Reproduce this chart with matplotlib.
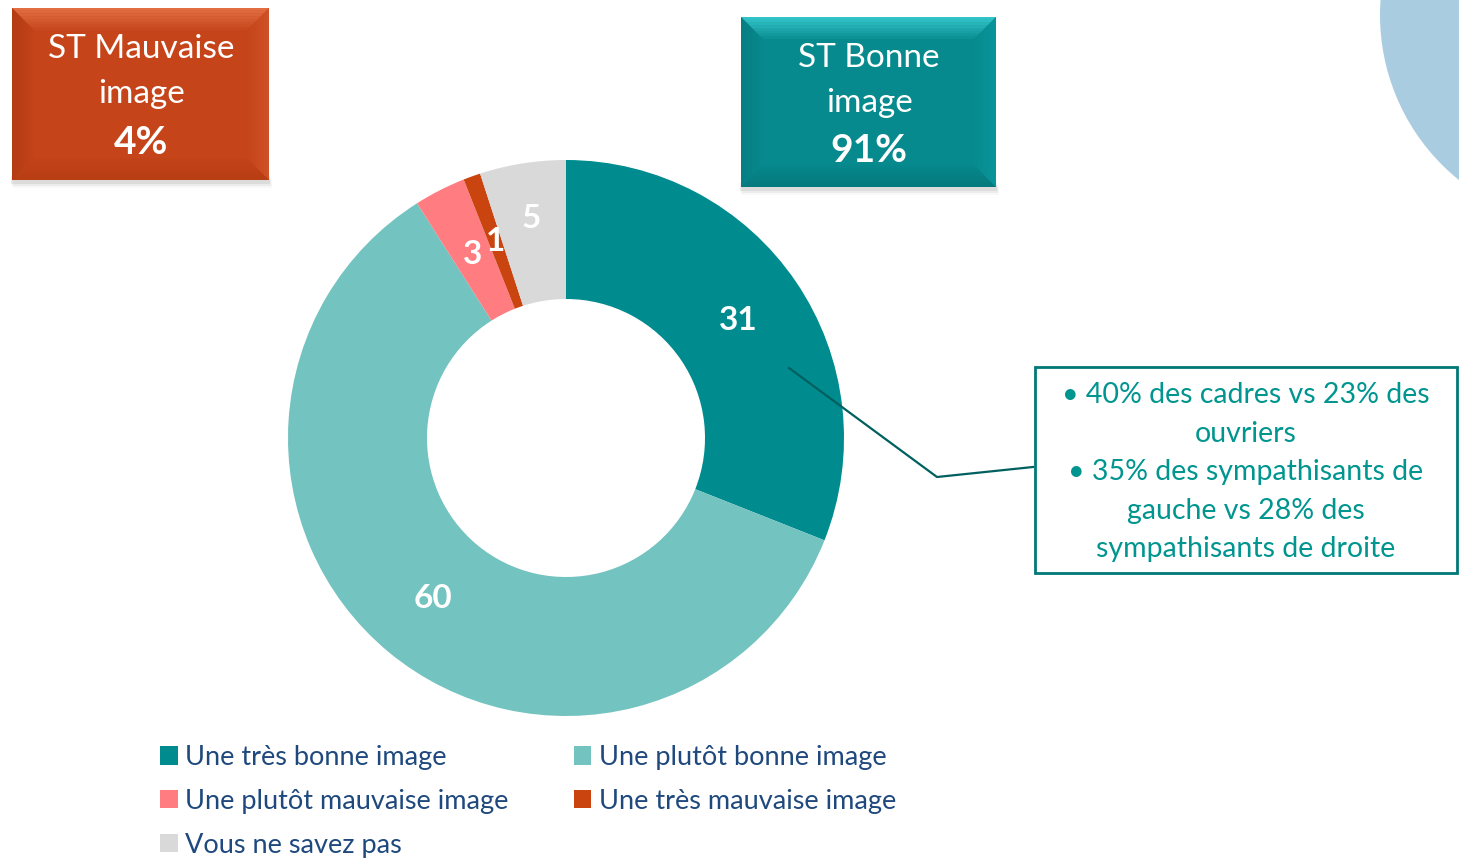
import numpy as np
import matplotlib.pyplot as plt
from matplotlib.patches import Rectangle, Polygon, Circle

plt.rcParams['font.family'] = ['Lato', 'DejaVu Sans']

W, H = 1459, 858

categories = ["Une très bonne image", "Une plutôt bonne image",
              "Une plutôt mauvaise image", "Une très mauvaise image",
              "Vous ne savez pas"]
values = [31, 60, 3, 1, 5]
colors = ["#008C8F", "#73C3C0", "#FF7C80", "#C9440F", "#D9D9D9"]
# how far out each value label sits (fraction of radius)
label_dist = [0.75, 0.75, 0.74, 0.75, 0.80]

box_titles = [["ST Mauvaise", "image"], ["ST Bonne", "image"]]
box_values = ["4%", "91%"]

callout_lines = ["• 40% des cadres vs 23% des", "ouvriers",
                 "• 35% des sympathisants de", "gauche vs 28% des",
                 "sympathisants de droite"]

TEXT_TEAL = "#00958F"
LEGEND_BLUE = "#1F497D"


def Y(y):
    # picture rows go down, data goes up
    return H - y


def bevel_box(ax, x0, y0, x1, y1, base, top, left, right, bottom, b=22):
    # soft shadow under the box
    for i, a in enumerate([0.10, 0.07, 0.04]):
        ax.add_patch(Rectangle((x0 - 1 + i, Y(y1 + 4 + 2 * i)), x1 - x0 + 2, 8,
                               color="#555555", alpha=a, lw=0, zorder=1))
    ax.add_patch(Rectangle((x0, Y(y1)), x1 - x0, y1 - y0, color=base, lw=0, zorder=2))
    # bevel edges, built from thin strips fading towards the inside
    steps = 8
    for k in range(steps):
        d0 = b * k / steps
        d1 = b * (k + 1) / steps
        a = 0.6 * (1 - k / steps)
        strips = {
            "top": [(x0 + d0, y0 + d0), (x1 - d0, y0 + d0), (x1 - d1, y0 + d1), (x0 + d1, y0 + d1)],
            "bottom": [(x0 + d0, y1 - d0), (x1 - d0, y1 - d0), (x1 - d1, y1 - d1), (x0 + d1, y1 - d1)],
            "left": [(x0 + d0, y0 + d0), (x0 + d1, y0 + d1), (x0 + d1, y1 - d1), (x0 + d0, y1 - d0)],
            "right": [(x1 - d0, y0 + d0), (x1 - d1, y0 + d1), (x1 - d1, y1 - d1), (x1 - d0, y1 - d0)],
        }
        for side, col in [("top", top), ("bottom", bottom), ("left", left), ("right", right)]:
            ax.add_patch(Polygon([(px, Y(py)) for px, py in strips[side]], closed=True,
                                 color=col, lw=0, alpha=a, zorder=3))


fig = plt.figure(figsize=(W / 100, H / 100), dpi=100)
ax = fig.add_axes([0, 0, 1, 1])

# background decoration circle, top right
ax.add_patch(Circle((1592, Y(15)), 212, color="#A9CCE0", lw=0, zorder=0))

# donut
R = 278
center = (566, Y(438))
wedges, _ = ax.pie(values, colors=colors, startangle=90, counterclock=False,
                   radius=R, center=center, frame=True,
                   wedgeprops=dict(width=139, linewidth=0))
for w, v, d in zip(wedges, values, label_dist):
    ang = np.deg2rad((w.theta1 + w.theta2) / 2)
    ax.text(center[0] + d * R * np.cos(ang), center[1] + d * R * np.sin(ang), str(v),
            ha="center", va="center", color="white", fontsize=24, fontweight="bold", zorder=5)

# summary boxes
bevel_box(ax, 12, 8, 269, 180, "#C5441A", "#F58A5C", "#A8360E", "#D65A2C", "#B03A10")
bevel_box(ax, 741, 17, 996, 187, "#078A8E", "#4FEAF0", "#06777B", "#0A9CA2", "#056F73")
for cx, top_y, title, val in [(141, 49, box_titles[0], box_values[0]),
                              (869, 58, box_titles[1], box_values[1])]:
    for j, line in enumerate(title):
        ax.text(cx, Y(top_y + 45 * j), line, ha="center", va="center", color="white",
                fontsize=24, zorder=5)
    ax.text(cx, Y(top_y + 93), val, ha="center", va="center", color="white",
            fontsize=28, fontweight="bold", zorder=5)

# callout
ax.plot([789, 937, 1033], [Y(368), Y(477), Y(467)], color="#00605F", lw=1.6, zorder=4)
ax.add_patch(Rectangle((1035, Y(573)), 422, 206, fill=False, edgecolor="#007878",
                       lw=2, zorder=4))
for i, line in enumerate(callout_lines):
    ax.text(1246, Y(395 + i * 38.5), line, ha="center", va="center",
            color=TEXT_TEAL, fontsize=20.5, zorder=5)

# legend, row-major order like the original
order = [0, 2, 4, 1, 3]
ax.legend([wedges[i] for i in order], [categories[i] for i in order],
          ncol=2, loc="upper left", bbox_to_anchor=(160, Y(745)),
          bbox_transform=ax.transData, frameon=False, fontsize=19.5,
          labelcolor=LEGEND_BLUE, handlelength=0.65, handleheight=0.65,
          handletextpad=0.28, columnspacing=2.4, labelspacing=0.7,
          borderpad=0, borderaxespad=0)

ax.set_xlim(0, W)
ax.set_ylim(0, H)
ax.set_aspect("equal")
ax.axis("off")

fig.savefig("out.png", dpi=100)
